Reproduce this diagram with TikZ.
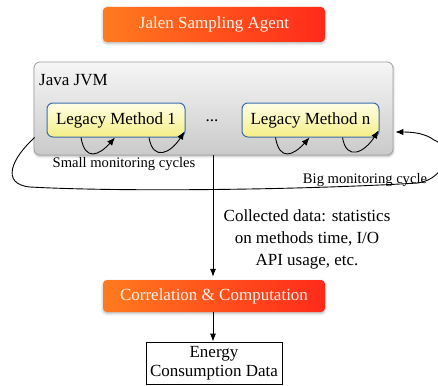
\documentclass[tikz,border=0pt]{standalone}
\usepackage{fontspec}
\setmainfont{Liberation Serif}
\usetikzlibrary{arrows.meta,shadows.blur,calc}

\definecolor{orangeA}{HTML}{FF7A1E}
\definecolor{orangeB}{HTML}{FF2A1A}
\definecolor{jvmTop}{HTML}{F6F6F6}
\definecolor{jvmBot}{HTML}{CACACA}
\definecolor{jvmLine}{HTML}{A0A0A0}
\definecolor{methTop}{HTML}{FFFFE6}
\definecolor{methBot}{HTML}{F5EE86}
\definecolor{methLine}{HTML}{3A6CA8}
\definecolor{labelWhite}{HTML}{FFF4EA}

\tikzset{
  txt/.style={font=\fontsize{17}{20}\selectfont, inner sep=0pt},
  smalltxt/.style={font=\fontsize{14.6}{17}\selectfont, inner sep=0pt},
  hotbox/.style={rounded corners=4pt, left color=orangeA, right color=orangeB,
    draw=none, text=labelWhite, txt, minimum width=222pt,
    blur shadow={shadow xshift=0pt, shadow yshift=-1.5pt, shadow opacity=30, shadow blur radius=2.5pt}},
  vmbox/.style={rounded corners=6pt, top color=jvmTop, bottom color=jvmBot,
    draw=jvmLine, line width=0.8pt,
    blur shadow={shadow xshift=0.5pt, shadow yshift=-1.5pt, shadow opacity=30, shadow blur radius=2pt}},
  methbox/.style={rounded corners=6pt, top color=methTop, bottom color=methBot,
    draw=methLine, line width=1pt, txt, minimum height=34pt},
  flow/.style={line width=0.8pt, -{Latex[length=8pt,width=6pt]}},
  cyc/.style={line width=0.9pt, -{Latex[length=8pt,width=6.5pt]}},
  databox/.style={draw=black, line width=0.8pt, txt, align=center,
    minimum width=136pt, minimum height=42pt, font=\fontsize{17}{19}\selectfont},
}

\begin{document}
\begin{tikzpicture}[x=1pt, y=-1pt]
\useasboundingbox (0,0) rectangle (438,385);

% sampling agent on top
\node[hotbox, minimum height=35pt] (agent) at (214,24.5) {Jalen Sampling Agent};

% virtual machine with the monitored methods
\node[vmbox, minimum width=359pt, minimum height=93pt] (jvm) at (213.5,108.5) {};
\node[txt, anchor=base west] (jvmlabel) at (39,85) {Java JVM};
\node[methbox, minimum width=138pt] (m1) at (116,120) {Legacy Method 1};
\node[methbox, minimum width=137pt] (mn) at (310.5,120) {Legacy Method n};
\node[txt] (dots) at (212,121) {...};

% small monitoring cycles: a dip below each method box and back up into it
\draw[cyc] ([xshift=-35pt]m1.south) .. controls +(4,24) and +(-16,18) .. ([xshift=-1pt]m1.south);
\draw[cyc] ([xshift=33pt]m1.south) .. controls +(4,24) and +(-14,22) .. ([xshift=-1pt,yshift=6pt]m1.south east);
\draw[cyc] ([xshift=-35pt]mn.south) .. controls +(4,24) and +(-16,18) .. ([xshift=-1pt]mn.south);
\draw[cyc] ([xshift=32pt]mn.south) .. controls +(4,24) and +(-14,22) .. ([xshift=-1pt,yshift=7pt]mn.south east);
\node[smalltxt] (smalllbl) at (124,164) {Small monitoring cycles};

% big monitoring cycle
\coordinate (bigstart) at ([xshift=1pt,yshift=-29pt]jvm.west);
\coordinate (bigend) at ([xshift=2pt,yshift=-23.5pt]jvm.east);
\draw[cyc] (bigstart)
  .. controls (12,158) and (0,184) .. (30,187)
  .. controls (120,192) and (300,190) .. (418,183)
  .. controls (448,178) and (452,146) .. (434,140)
  .. controls (426,134) and (415,132) .. (bigend);
\node[smalltxt] (biglbl) at (365,180) {Big monitoring cycle};

% data flow
\node[hotbox, minimum height=32pt] (corr) at (214,296) {Correlation \& Computation};
\node[txt, align=center, font=\fontsize{17}{22}\selectfont] (collected) at (307,239)
  {Collected data: statistics\\on methods time, I/O\\API usage, etc.};
\node[databox] (energy) at (214,363) {Energy\\Consumption Data};

\draw[flow] (jvm.south -| 213,0) -- ([yshift=3pt]corr.north -| 213,0);
\draw[flow] (corr.south -| 213,0) -- (energy.north -| 213,0);
\end{tikzpicture}
\end{document}
